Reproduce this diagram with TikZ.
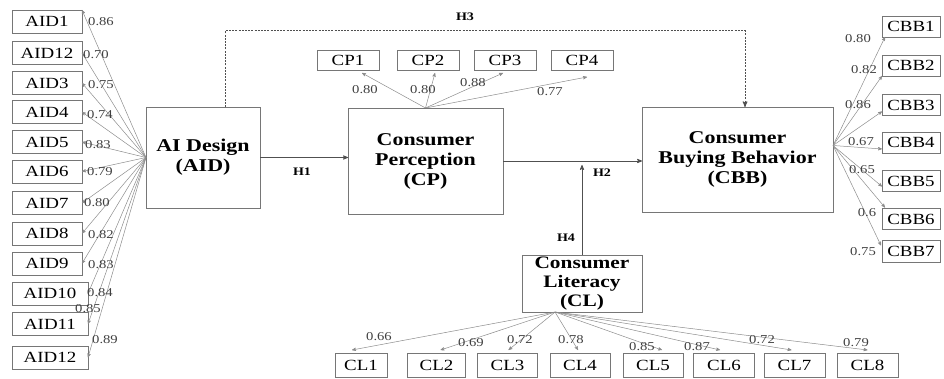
\documentclass[tikz,border=0pt]{standalone}
\usepackage{fontspec}
\setmainfont{Liberation Serif}[FakeStretch=1.22]
\usetikzlibrary{
	arrows,
	arrows.meta,
	calc,
	positioning
}
\definecolor{boxgray}{HTML}{767676}
\definecolor{linegray}{HTML}{8C8C8C}
\definecolor{pathgray}{HTML}{505050}
\tikzset{every path/.append style={line width=0.6pt}}
\tikzset{every path/.append style={>=stealth'}}
\tikzset{
	construct/.style={draw=boxgray,inner sep=0mm,outer sep=0mm,align=center,font=\fontsize{18}{20}\selectfont\bfseries},
	item/.style={draw=boxgray,inner sep=0mm,outer sep=0mm,minimum width=70pt,minimum height=23pt,font=\fontsize{15.5}{15.5}\selectfont},
	load/.style={inner sep=0mm,font=\fontsize{12}{12}\selectfont,text=black!75},
	hyp/.style={inner sep=0mm,font=\fontsize{11.5}{11.5}\selectfont\bfseries},
	loading/.style={->,draw=linegray,line width=0.5pt},
	path/.style={->,draw=pathgray,line width=0.8pt}
}
\newcommand{\tikzItem}[4][]{\node (#3) at #2 [item,#1]{#4};}
\newcommand{\tikzLoad}[3]{\node (#2) at #1 [load]{#3};}

\begin{document}
\begin{tikzpicture}[x=1pt,y=-1pt]
	\useasboundingbox (0,0) rectangle (944,379);

	% constructs
	\node (AID) at (203,157.5) [construct,minimum width=114pt,minimum height=101pt]{AI Design\\(AID)};
	\node (CP) at (425.5,161) [construct,minimum width=155pt,minimum height=106pt]{Consumer\\Perception\\(CP)};
	\node (CBB) at (737.5,159.5) [construct,minimum width=191pt,minimum height=105pt]{Consumer\\Buying Behavior\\(CBB)};
	\node (CL) at (582,283.5) [construct,minimum width=120pt,minimum height=57pt,font=\fontsize{17.5}{19}\selectfont\bfseries]{Consumer\\Literacy\\(CL)};

	% hypotheses
	\draw[path] (AID.east) -- (AID.east -| CP.west);
	\node (h1) at (302,172) [hyp]{H1};
	\draw[path] (CP.east) -- (CP.east -| CBB.west);
	\node (h2) at (602,173) [hyp]{H2};
	\draw[path,shorten >=4pt] (CL.north) -- (CL.north |- CP.east);
	\node (h4) at (566,238) [hyp]{H4};
	\coordinate (h3l) at (225,31);
	\coordinate (h3r) at (745,31);
	\draw[path,line width=1pt,dash pattern=on 2pt off 1.2pt] (AID.north -| h3l) -- (h3l) -- (h3r) -- (CBB.north -| h3r);
	\node (h3) at (465,17) [hyp]{H3};

	% AI design items
	\tikzItem[anchor=west]{(12,21.5)}{aid1}{AID1};
	\tikzItem[anchor=west]{(12,53)}{aid2}{AID12};
	\tikzItem[anchor=west]{(12,83)}{aid3}{AID3};
	\tikzItem[anchor=west]{(12,112)}{aid4}{AID4};
	\tikzItem[anchor=west]{(12,142)}{aid5}{AID5};
	\tikzItem[anchor=west]{(12,171.5)}{aid6}{AID6};
	\tikzItem[anchor=west]{(12,203)}{aid7}{AID7};
	\tikzItem[anchor=west]{(12,233.5)}{aid8}{AID8};
	\tikzItem[anchor=west]{(12,263.5)}{aid9}{AID9};
	\tikzItem[anchor=west,minimum width=76pt]{(12,293.5)}{aid10}{AID10};
	\tikzItem[anchor=west,minimum width=76pt]{(12,324)}{aid11}{AID11};
	\tikzItem[anchor=west,minimum width=76pt]{(12,357.5)}{aid12}{AID12};

	\draw[loading] (AID.west) -- (aid1.north east);
	\draw[loading] (AID.west) -- (aid2.east);
	\draw[loading] (AID.west) -- (aid3.east);
	\draw[loading] (AID.west) -- (aid4.east);
	\draw[loading] (AID.west) -- (aid5.east);
	\draw[loading] (AID.west) -- (aid6.east);
	\draw[loading] (AID.west) -- (aid7.east);
	\draw[loading] (AID.west) -- (aid8.east);
	\draw[loading] (AID.west) -- (aid9.east);
	\draw[loading] (AID.west) -- (aid10.east);
	\draw[loading] (AID.west) -- (aid11.east);
	\draw[loading] (AID.west) -- (aid12.east);

	\tikzLoad{(101,22)}{laid1}{0.86};
	\tikzLoad{(96,55)}{laid2}{0.70};
	\tikzLoad{(101,85)}{laid3}{0.75};
	\tikzLoad{(100,115)}{laid4}{0.74};
	\tikzLoad{(98,145)}{laid5}{0.83};
	\tikzLoad{(100,172)}{laid6}{0.79};
	\tikzLoad{(97,203)}{laid7}{0.80};
	\tikzLoad{(101,235)}{laid8}{0.82};
	\tikzLoad{(101,265)}{laid9}{0.83};
	\tikzLoad{(100,293)}{laid10}{0.84};
	\tikzLoad{(88,309)}{laid11}{0.85};
	\tikzLoad{(105,340)}{laid12}{0.89};

	% perception items
	\tikzItem[minimum width=62pt,minimum height=20pt]{(348,60)}{cp1}{CP1};
	\tikzItem[minimum width=62pt,minimum height=20pt]{(428,60)}{cp2}{CP2};
	\tikzItem[minimum width=62pt,minimum height=20pt]{(505,60)}{cp3}{CP3};
	\tikzItem[minimum width=62pt,minimum height=20pt]{(582,60)}{cp4}{CP4};

	\draw[loading] (CP.north) -- ([xshift=14pt,yshift=-3pt]cp1.south);
	\draw[loading] (CP.north) -- ([xshift=7pt,yshift=-3pt]cp2.south);
	\draw[loading] (CP.north) -- ([xshift=-2pt,yshift=-3pt]cp3.south);
	\draw[loading] (CP.north) -- ([xshift=5pt,yshift=-7pt]cp4.south);

	\tikzLoad{(365,90)}{lcp1}{0.80};
	\tikzLoad{(423,90)}{lcp2}{0.80};
	\tikzLoad{(473,83)}{lcp3}{0.88};
	\tikzLoad{(550,92)}{lcp4}{0.77};

	% buying behavior items
	\tikzItem[anchor=west,minimum width=58pt,minimum height=21pt]{(882,26.5)}{cbb1}{CBB1};
	\tikzItem[anchor=west,minimum width=58pt,minimum height=21pt]{(882,65.5)}{cbb2}{CBB2};
	\tikzItem[anchor=west,minimum width=58pt,minimum height=21pt]{(882,105)}{cbb3}{CBB3};
	\tikzItem[anchor=west,minimum width=58pt,minimum height=21pt]{(882,142.5)}{cbb4}{CBB4};
	\tikzItem[anchor=west,minimum width=58pt,minimum height=21pt]{(882,181)}{cbb5}{CBB5};
	\tikzItem[anchor=west,minimum width=58pt,minimum height=21pt]{(882,219)}{cbb6}{CBB6};
	\tikzItem[anchor=west,minimum width=58pt,minimum height=22pt]{(882,251.5)}{cbb7}{CBB7};

	\coordinate (cbbout) at ([yshift=14pt]CBB.east);
	\draw[loading] (cbbout) -- ([xshift=3pt]cbb1.south west);
	\draw[loading] (cbbout) -- (cbb2.south west);
	\draw[loading] (cbbout) -- ([yshift=4pt]cbb3.south west);
	\draw[loading] (cbbout) -- ([yshift=4pt]cbb4.south west);
	\draw[loading] (cbbout) -- ([yshift=5pt]cbb5.south west);
	\draw[loading] (cbbout) -- ([xshift=3pt,yshift=1pt]cbb6.north west);
	\draw[loading] (cbbout) -- ([xshift=-1pt,yshift=-5pt]cbb7.north west);

	\tikzLoad{(858,39)}{lcbb1}{0.80};
	\tikzLoad{(864,70)}{lcbb2}{0.82};
	\tikzLoad{(858,105)}{lcbb3}{0.86};
	\tikzLoad{(861,142)}{lcbb4}{0.67};
	\tikzLoad{(862,170)}{lcbb5}{0.65};
	\tikzLoad{(867,213)}{lcbb6}{0.6};
	\tikzLoad{(863,252)}{lcbb7}{0.75};

	% literacy items
	\tikzItem[minimum width=52pt,minimum height=24pt]{(361,365)}{cl1}{CL1};
	\tikzItem[minimum width=58pt,minimum height=24pt]{(436.5,365)}{cl2}{CL2};
	\tikzItem[minimum width=60pt,minimum height=24pt]{(507.5,365)}{cl3}{CL3};
	\tikzItem[minimum width=60pt,minimum height=24pt]{(580,365)}{cl4}{CL4};
	\tikzItem[minimum width=60pt,minimum height=24pt]{(653,365)}{cl5}{CL5};
	\tikzItem[minimum width=61pt,minimum height=24pt]{(724,365)}{cl6}{CL6};
	\tikzItem[minimum width=61pt,minimum height=24pt]{(794.5,365)}{cl7}{CL7};
	\tikzItem[minimum width=61pt,minimum height=24pt]{(867.5,365)}{cl8}{CL8};

	\coordinate (clout) at ([xshift=-27pt]CL.south);
	\draw[loading] (clout) -- ([xshift=-9pt,yshift=3pt]cl1.north);
	\draw[loading] (clout) -- ([xshift=4pt,yshift=3pt]cl2.north);
	\draw[loading] (clout) -- ([xshift=1pt,yshift=3pt]cl3.north);
	\draw[loading] (clout) -- ([xshift=-2pt,yshift=3pt]cl4.north);
	\draw[loading] (clout) -- ([xshift=9pt,yshift=3pt]cl5.north);
	\draw[loading] (clout) -- ([xshift=-4pt,yshift=3pt]cl6.north);
	\draw[loading] (clout) -- ([xshift=-3pt,yshift=3pt]cl7.north);
	\draw[loading] (clout) -- ([yshift=3pt]cl8.north);

	\tikzLoad{(379,337)}{lcl1}{0.66};
	\tikzLoad{(471,343)}{lcl2}{0.69};
	\tikzLoad{(520,340)}{lcl3}{0.72};
	\tikzLoad{(571,340)}{lcl4}{0.78};
	\tikzLoad{(642,347)}{lcl5}{0.85};
	\tikzLoad{(697,347)}{lcl6}{0.87};
	\tikzLoad{(762,340)}{lcl7}{0.72};
	\tikzLoad{(856,343)}{lcl8}{0.79};
\end{tikzpicture}
\end{document}
